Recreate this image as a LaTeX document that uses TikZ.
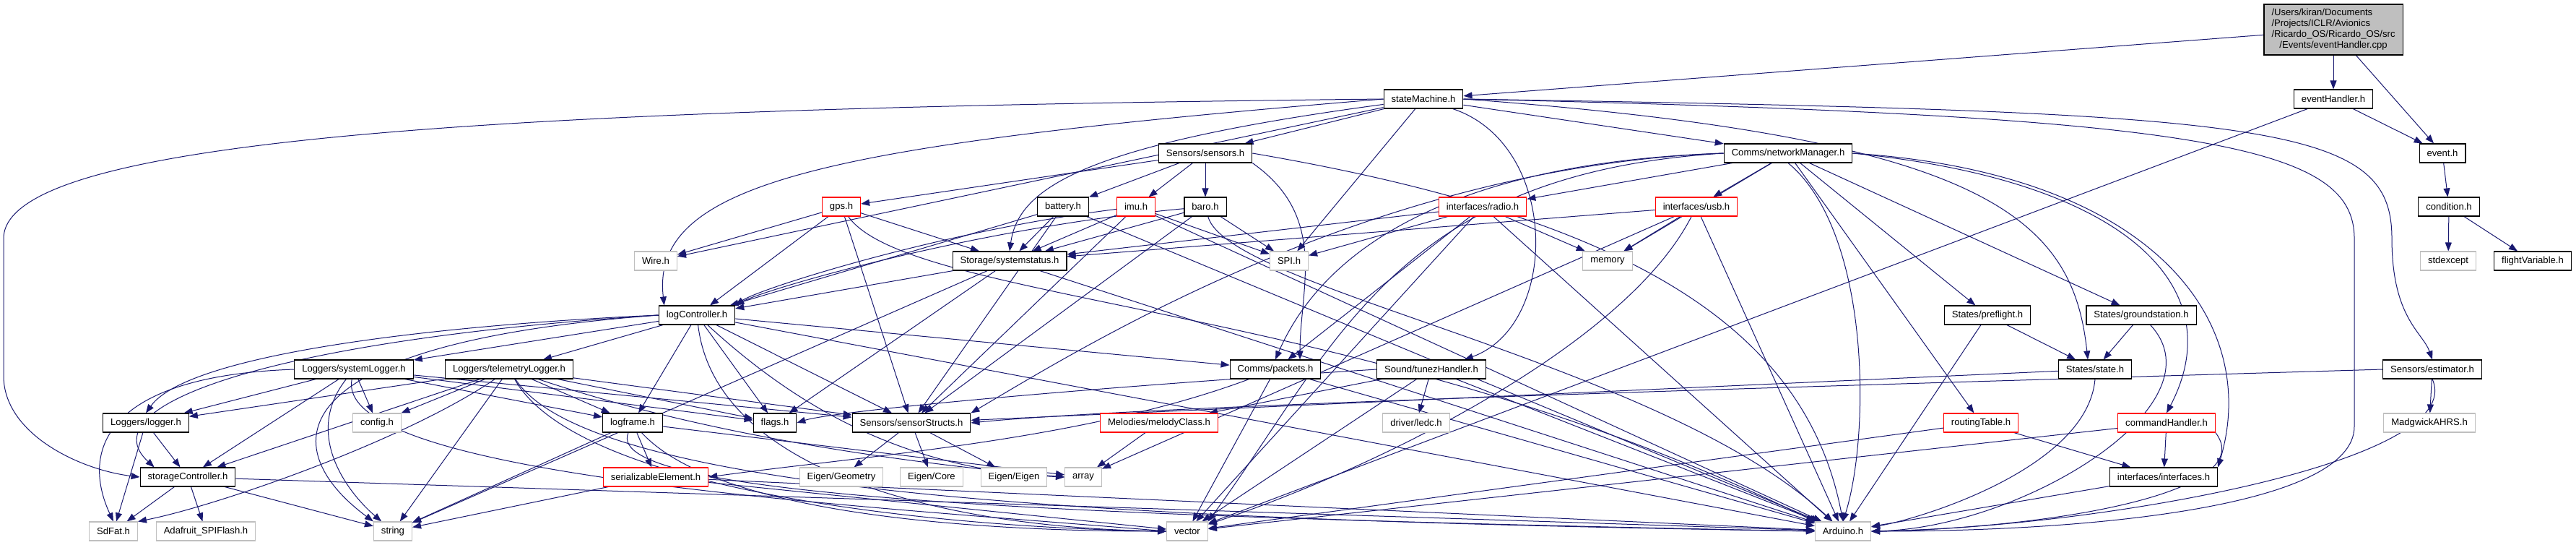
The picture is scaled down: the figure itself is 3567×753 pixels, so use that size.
\documentclass[tikz,border=0pt]{standalone}
\usepackage{fontspec}
\setmainfont{Liberation Sans}
\usetikzlibrary{arrows.meta,backgrounds}
\definecolor{edgeblue}{RGB}{25,25,112}
\definecolor{sysgray}{RGB}{191,191,191}

\begin{document}
\begin{tikzpicture}[
  x=1pt, y=-1pt,
  hfile/.style={draw=black, fill=white, line width=1.1pt, inner xsep=10.5pt, inner ysep=0pt,
    minimum height=26pt, font=\fontsize{13.1}{15}\selectfont},
  sysfile/.style={hfile, draw=sysgray},
  trunc/.style={hfile, draw=red},
  rootfile/.style={hfile, fill=sysgray, inner ysep=4pt, minimum height=70pt},
  dep/.style={-{Triangle[length=12pt,width=9pt]}, draw=edgeblue, line width=1pt}
]
\useasboundingbox (0,0) rectangle (3567,753);

% row 0 and 1
\node[rootfile] (rootcpp) at (3231,41) {\begin{tabular}{@{}l@{}}/Users/kiran/Documents\\/Projects/ICLR/Avionics\\/Ricardo\_OS/Ricardo\_OS/src\\\multicolumn{1}{@{}c@{}}{/Events/eventHandler.cpp}\end{tabular}};
\node[hfile] (stateMachine) at (1971,137) {stateMachine.h};
\node[hfile] (eventHandler) at (3231,137) {eventHandler.h};

% row 2
\node[hfile] (sensors) at (1669,212) {Sensors/sensors.h};
\node[hfile] (networkManager) at (2476,212) {Comms/networkManager.h};
\node[hfile] (eventH) at (3382,212) {event.h};

% row 3
\node[trunc] (gps) at (1165,286) {gps.h};
\node[hfile] (battery) at (1472,286) {battery.h};
\node[trunc] (imu) at (1573,286) {imu.h};
\node[hfile] (baro) at (1669,286) {baro.h};
\node[trunc] (radio) at (2053,286) {interfaces/radio.h};
\node[trunc] (usb) at (2349,286) {interfaces/usb.h};
\node[hfile] (condition) at (3391,286) {condition.h};

% row 4
\node[sysfile] (wire) at (908,361) {Wire.h};
\node[hfile] (systemstatus) at (1398,361) {Storage/systemstatus.h};
\node[sysfile] (spi) at (1785,361) {SPI.h};
\node[sysfile] (memory) at (2226,361) {memory};
\node[sysfile] (stdexcept) at (3390,361) {stdexcept};
\node[hfile] (flightVariable) at (3507,361) {flightVariable.h};

% row 5
\node[hfile] (logController) at (965,436) {logController.h};
\node[hfile] (preflight) at (2752,436) {States/preflight.h};
\node[hfile] (groundstation) at (2965,436) {States/groundstation.h};

% row 6
\node[hfile] (systemLogger) at (490,511) {Loggers/systemLogger.h};
\node[hfile] (telemetryLogger) at (705,511) {Loggers/telemetryLogger.h};
\node[hfile] (packets) at (1766,511) {Comms/packets.h};
\node[hfile] (tunezHandler) at (1982,511) {Sound/tunezHandler.h};
\node[hfile] (stateH) at (2901,511) {States/state.h};
\node[hfile] (estimator) at (3368,511) {Sensors/estimator.h};

% row 7
\node[hfile] (logger) at (202,585) {Loggers/logger.h};
\node[sysfile] (config) at (522,585) {config.h};
\node[hfile] (logframe) at (876,585) {logframe.h};
\node[hfile] (flags) at (1073,585) {flags.h};
\node[hfile] (sensorStructs) at (1262,585) {Sensors/sensorStructs.h};
\node[trunc] (melodyClass) at (1605,585) {Melodies/melodyClass.h};
\node[sysfile] (ledc) at (1961,585) {driver/ledc.h};
\node[trunc] (routingTable) at (2743,585) {routingTable.h};
\node[trunc] (commandHandler) at (3000,585) {commandHandler.h};
\node[sysfile] (madgwick) at (3364,585) {MadgwickAHRS.h};

% row 8
\node[hfile] (storageController) at (260,660) {storageController.h};
\node[trunc] (serializable) at (908,660) {serializableElement.h};
\node[sysfile] (eigenGeometry) at (1165,660) {Eigen/Geometry};
\node[sysfile] (eigenCore) at (1290,660) {Eigen/Core};
\node[sysfile] (eigenEigen) at (1404,660) {Eigen/Eigen};
\node[sysfile] (array) at (1500,660) {array};
\node[hfile] (interfaces) at (2996,660) {interfaces/interfaces.h};

% row 9
\node[sysfile] (sdfat) at (157,735) {SdFat.h};
\node[sysfile] (spiflash) at (285,735) {Adafruit\_SPIFlash.h};
\node[sysfile] (string) at (544,735) {string};
\node[sysfile] (vector) at (1644,735) {vector};
\node[sysfile] (arduino) at (2552,735) {Arduino.h};

\begin{scope}[on background layer]
% straight includes
\foreach \t in {stateMachine,eventHandler,eventH} \draw[dep] (rootcpp) -- (\t);
\foreach \t in {eventH,vector} \draw[dep] (eventHandler) -- (\t);
\draw[dep] (eventH) -- (condition);
\foreach \t in {stdexcept,flightVariable} \draw[dep] (condition) -- (\t);
\foreach \t in {wire,sensors,spi,networkManager} \draw[dep] (stateMachine) -- (\t);
\foreach \t in {gps,battery,imu,baro} \draw[dep] (sensors) -- (\t);
\foreach \t in {wire,logController,systemstatus,sensorStructs} \draw[dep] (gps) -- (\t);
\foreach \t in {logController,systemstatus,sensorStructs,arduino} \draw[dep] (battery) -- (\t);
\foreach \t in {systemstatus,sensorStructs,spi,arduino} \draw[dep] (imu) -- (\t);
\foreach \t in {systemstatus,sensorStructs,spi} \draw[dep] (baro) -- (\t);
\foreach \t in {logController,flags,string,arduino} \draw[dep] (systemstatus) -- (\t);
\foreach \t in {systemstatus,spi,memory,packets,vector,arduino} \draw[dep] (radio) -- (\t);
\foreach \t in {systemstatus,memory,array,arduino} \draw[dep] (usb) -- (\t);
\foreach \t in {radio,usb,memory,routingTable,preflight,groundstation} \draw[dep] (networkManager) -- (\t);
\foreach \t in {stateH,arduino} \draw[dep] (preflight) -- (\t);
\draw[dep] (groundstation) -- (stateH);
\draw[dep] (stateH) -- (sensorStructs);
\draw[dep] (estimator) -- (madgwick);
\foreach \t in {interfaces,vector} \draw[dep] (routingTable) -- (\t);
\foreach \t in {interfaces,vector} \draw[dep] (commandHandler) -- (\t);
\draw[dep] (interfaces) -- (arduino);
\foreach \t in {ledc,melodyClass,vector,arduino} \draw[dep] (tunezHandler) -- (\t);
\draw[dep] (melodyClass) -- (array);
\foreach \t in {vector,arduino} \draw[dep] (packets) -- (\t);
\foreach \t in {string,vector,arduino} \draw[dep] (serializable) -- (\t);
\foreach \t in {serializable,string,array} \draw[dep] (logframe) -- (\t);
\foreach \t in {eigenGeometry,eigenCore,eigenEigen} \draw[dep] (sensorStructs) -- (\t);
\foreach \t in {systemLogger,telemetryLogger,logframe,flags,sensorStructs,packets,arduino} \draw[dep] (logController) -- (\t);
\foreach \t in {logger,storageController,config,logframe,flags,sensorStructs} \draw[dep] (systemLogger) -- (\t);
\foreach \t in {logger,config,storageController,string,logframe,flags,sensorStructs} \draw[dep] (telemetryLogger) -- (\t);
\foreach \t in {sdfat,storageController} \draw[dep] (logger) -- (\t);
\foreach \t in {sdfat,spiflash,string,arduino} \draw[dep] (storageController) -- (\t);

% routed includes
\draw[dep] (stateMachine.west) .. controls (700,150) and (5,190) .. (5,330) -- (5,520) .. controls (5,600) and (110,650) .. (storageController.west);
\draw[dep] (stateMachine.west) .. controls (1150,200) and (900,250) .. ([xshift=8pt]logController.north west);
\draw[dep] (stateMachine) .. controls (1500,200) and (1410,260) .. (systemstatus.north);
\draw[dep] (stateMachine) .. controls (2160,200) and (2160,450) .. ([xshift=-30pt]tunezHandler.north east);
\draw[dep] (stateMachine.east) .. controls (2750,190) and (2870,300) .. ([xshift=-10pt]stateH.north);
\draw[dep] (stateMachine.east) .. controls (3050,160) and (3260,200) .. (3260,330) -- (3260,590) .. controls (3260,700) and (2900,735) .. (arduino.east);
\draw[dep] (stateMachine.east) .. controls (3150,155) and (3312,170) .. (3312,330) .. controls (3312,440) and (3355,460) .. (estimator.north);
\draw[dep] (sensors.south east) .. controls (1840,300) and (1800,400) .. ([xshift=34pt]packets.north);
\draw[dep] (sensors.east) .. controls (2250,300) and (2500,450) .. (arduino.north);
\draw[dep] (gps) .. controls (1260,420) and (1900,420) .. (arduino.north west);
\draw[dep] (imu) .. controls (1300,320) and (1050,400) .. (logController.north east);
\draw[dep] (baro) .. controls (1350,315) and (1060,400) .. (logController.north east);
\draw[dep] (baro) .. controls (1700,400) and (2300,500) .. (arduino);
\draw[dep] (usb) .. controls (2250,480) and (1900,650) .. (vector);
\draw[dep] (networkManager.west) .. controls (2000,225) and (1830,350) .. (packets.north);
\draw[dep] (networkManager.west) .. controls (1930,240) and (1850,480) .. (vector.north east);
\draw[dep] (networkManager.west) .. controls (1900,230) and (1500,480) .. (sensorStructs.north east);
\draw[dep] (networkManager.east) .. controls (2950,250) and (3090,400) .. (commandHandler.north);
\draw[dep] (networkManager.east) .. controls (2990,240) and (3130,450) .. (interfaces.north east);
\draw[dep] (networkManager.south) .. controls (2590,320) and (2590,600) .. (arduino.north);
\draw[dep] (groundstation) .. controls (3080,560) and (2800,730) .. (arduino.east);
\draw[dep] (stateH.south) .. controls (2890,650) and (2650,720) .. (arduino);
\draw[dep] (estimator.south) .. controls (3420,640) and (2900,730) .. (arduino.east);
\draw[dep] (estimator.west) .. controls (2500,535) and (1600,560) .. (sensorStructs.east);
\draw[dep] (commandHandler.south east) .. controls (3130,680) and (2850,730) .. (arduino.east);
\draw[dep] (tunezHandler.west) .. controls (1450,540) and (1150,570) .. (flags.east);
\draw[dep] (packets) .. controls (1500,610) and (1200,630) .. (serializable.east);
\draw[dep] (logframe) .. controls (1000,720) and (1400,735) .. (vector.west);
\draw[dep] (logframe) .. controls (830,690) and (1500,715) .. (arduino.west);
\draw[dep] (logController.west) .. controls (600,450) and (260,490) .. (logger.north);
\draw[dep] (logController.west) .. controls (380,470) and (120,560) .. ([xshift=20pt]storageController.north west);
\draw[dep] (logController.west) .. controls (380,475) and (380,620) .. (string.north west);
\draw[dep] (logController) .. controls (990,650) and (1300,730) .. (vector.west);
\draw[dep] (logController) .. controls (1100,560) and (1250,650) .. (array.west);
\draw[dep] (systemLogger.west) .. controls (150,520) and (110,620) .. (sdfat.north);
\draw[dep] (systemLogger) .. controls (420,600) and (480,680) .. (string);
\draw[dep] (systemLogger) .. controls (460,660) and (1200,700) .. (vector.west);
\draw[dep] (telemetryLogger) .. controls (560,610) and (300,700) .. (sdfat.north east);
\draw[dep] (telemetryLogger) .. controls (1000,610) and (1300,645) .. (array.west);
\draw[dep] (telemetryLogger) .. controls (800,680) and (1300,730) .. (vector.west);
\draw[dep] (telemetryLogger) .. controls (820,690) and (1600,720) .. (arduino.west);
\end{scope}
\end{tikzpicture}
\end{document}
